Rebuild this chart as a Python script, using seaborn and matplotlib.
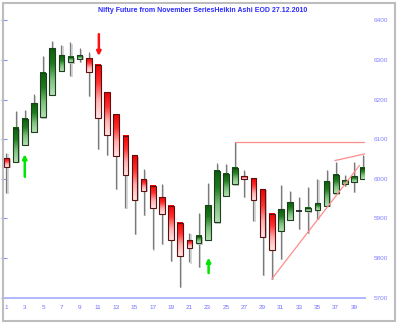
import numpy as np
import pandas as pd
import matplotlib
matplotlib.use("Agg")
import matplotlib.pyplot as plt
import matplotlib.transforms as mtransforms
from matplotlib.patches import Rectangle
from matplotlib.colors import LinearSegmentedColormap
import seaborn as sns

# Heikin Ashi candles, Nifty future (Nov series onward)
session = list(range(1, 41))
ha_open = [6053, 6042, 6085, 6119, 6155, 6211, 6272, 6294, 6302, 6304,
           6287, 6218, 6163, 6109, 6059, 5999, 5983, 5953, 5932, 5889,
           5846, 5837, 5846, 5890, 5956, 5986, 6006, 6001, 5974, 5912,
           5868, 5897, 5919, 5918, 5922, 5932, 5963, 5988, 5993, 5999]
ha_high = [6066, 6171, 6174, 6213, 6310, 6348, 6338, 6344, 6329, 6319,
           6287, 6218, 6163, 6109, 6059, 6024, 5983, 5987, 5932, 5889,
           5863, 5914, 5990, 6039, 6037, 6094, 6021, 6001, 5974, 5912,
           5984, 5969, 5954, 5979, 5999, 6022, 6043, 6010, 6042, 6060]
ha_low = [5965, 6042, 6085, 6119, 6155, 6211, 6272, 6260, 6296, 6209,
          6075, 6061, 5975, 5927, 5861, 5909, 5822, 5836, 5793, 5728,
          5789, 5778, 5846, 5890, 5956, 5986, 5955, 5894, 5757, 5747,
          5798, 5897, 5873, 5864, 5899, 5932, 5963, 5983, 5966, 5999]
ha_close = [6031, 6128, 6151, 6191, 6267, 6329, 6312, 6308, 6312, 6269,
            6153, 6110, 6058, 6009, 5946, 5969, 5926, 5911, 5845, 5805,
            5826, 5855, 5933, 6019, 6013, 6027, 5999, 5947, 5853, 5821,
            5923, 5941, 5919, 5927, 5939, 5994, 6010, 5996, 6006, 6028]

y_ticks = [5700, 5800, 5900, 6000, 6100, 6200, 6300, 6400]
x_labels = [str(i) if i % 2 == 1 else "" for i in session]
title = "Nifty Future from November SeriesHeikin Ashi EOD 27.12.2010"

# resistance line from the session-26 high, support and upper channel lines
resist_x = [26, 40.2]
resist_y = [6094, 6094]
support_x = [30, 39.6]
support_y = [5747, 6034]
upper_x = [36.9, 40.4]
upper_y = [6046, 6064]

# signal arrows: (session, start, end, colour)
arrows = [(3, 6005, 6062, "#00e600"),
          (11.1, 6365, 6310, "#ff1010"),
          (23.1, 5762, 5801, "#00e600")]

sns.set_style("white")
plt.rcParams["font.family"] = ["Liberation Sans", "DejaVu Sans"]

W, H = 400, 324
fig = plt.figure(figsize=(W / 100, H / 100), dpi=100)
ax = fig.add_axes([4 / W, 1 - 297.7 / H, (365 - 4) / W, (297.7 - 20.3) / H])

xmin, xmax = 0.73, 40.2
ymin, ymax = 5700, 6400

green_cmap = LinearSegmentedColormap.from_list("g", ["#b4e0b4", "#7cc07c", "#1f7a1f", "#0a5f0a"])
red_cmap = LinearSegmentedColormap.from_list("r", ["#ffe4e4", "#ffb0b0", "#ff3030", "#f00000"])
grad = np.linspace(0, 1, 64).reshape(-1, 1)

shadow = mtransforms.offset_copy(ax.transData, fig=fig, x=1.2, y=-1.2, units="dots")
bw = 0.62

df = pd.DataFrame({"x": session, "o": ha_open, "h": ha_high, "l": ha_low, "c": ha_close})
for r in df.itertuples():
    top, bot = max(r.o, r.c), min(r.o, r.c)
    # wick with a soft grey shadow
    ax.vlines(r.x, r.l, r.h, color="#d0d0d0", lw=1.2, transform=shadow, zorder=1)
    ax.vlines(r.x, r.l, r.h, color="#7a7a7a", lw=0.9, zorder=2)
    if top - bot < 1.5:
        ax.hlines(r.c, r.x - bw / 2, r.x + bw / 2, color="#111111", lw=1.2, zorder=4)
        continue
    up = r.c >= r.o
    cmap = green_cmap if up else red_cmap
    edge = "#1e3e1e" if up else "#5a1010"
    ax.add_patch(Rectangle((r.x - bw / 2, bot), bw, top - bot, facecolor="#c4c4c4",
                           edgecolor="none", transform=shadow, zorder=2))
    ax.imshow(grad, cmap=cmap, origin="lower", aspect="auto", interpolation="bilinear",
              extent=[r.x - bw / 2, r.x + bw / 2, bot, top], zorder=3)
    ax.add_patch(Rectangle((r.x - bw / 2, bot), bw, top - bot, facecolor="none",
                           edgecolor=edge, lw=0.8, zorder=4))

lines = pd.DataFrame({
    "x": resist_x + support_x + upper_x,
    "y": resist_y + support_y + upper_y,
    "name": ["resist"] * 2 + ["support"] * 2 + ["upper"] * 2,
})
sns.lineplot(data=lines, x="x", y="y", units="name", estimator=None, sort=False,
             color="#ff8c8c", lw=0.9, ax=ax, legend=False, zorder=5)

for x, y0, y1, col in arrows:
    ax.annotate("", xy=(x, y1), xytext=(x, y0),
                arrowprops=dict(arrowstyle="-|>", color=col, lw=1.8, mutation_scale=6,
                                shrinkA=0, shrinkB=0), zorder=6, annotation_clip=False)

ax.set_xlim(xmin, xmax)
ax.set_ylim(ymin, ymax)
ax.set_xlabel("")
ax.set_ylabel("")

ax.set_xticks(session)
ax.set_xticklabels(x_labels)
ax.set_yticks(y_ticks)
ax.set_yticklabels([str(v) for v in y_ticks])
ax.tick_params(axis="x", direction="inout", length=4, width=0.8, color="#8090ff",
               labelsize=4.6, labelcolor="#7070ff", pad=3)
ax.tick_params(axis="y", direction="inout", length=4, width=0.8, color="#8090ff",
               left=True, right=False, labelleft=False, labelright=True,
               labelsize=4.6, labelcolor="#8080ff", pad=4)
for side in ["top", "right", "left"]:
    ax.spines[side].set_visible(False)
ax.spines["bottom"].set_color("#b0b8ff")
ax.spines["bottom"].set_linewidth(1.4)

# outer frame
fig.patches.append(Rectangle((3 / W, 3 / H), (395 - 3) / W, (321 - 3) / H,
                             transform=fig.transFigure, fill=False,
                             edgecolor="#bdbdbd", lw=1.5))

fig.text(203 / W, 1 - 10 / H, title, ha="center", va="center", fontsize=5,
         fontweight="bold", color="#2a2aff")

fig.savefig("out.png", dpi=100, facecolor="white")
